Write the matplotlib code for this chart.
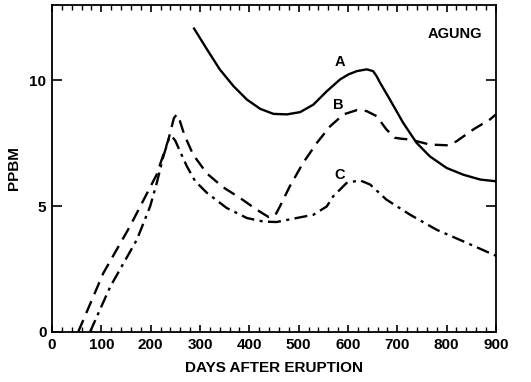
import matplotlib.pyplot as plt
from matplotlib.ticker import MultipleLocator

plt.rcParams["font.family"] = ["Liberation Sans", "DejaVu Sans"]
plt.rcParams["font.weight"] = "bold"

# curve A (solid)
a_days = [288, 314, 340, 368, 395, 422, 449, 476, 503, 530, 557, 584, 601,
          618, 638, 651, 658, 665, 685, 712, 739, 766, 800, 834, 868, 900]
a_ppbm = [12.06, 11.24, 10.44, 9.77, 9.24, 8.87, 8.67, 8.65, 8.74, 9.04, 9.57,
          10.04, 10.24, 10.37, 10.44, 10.37, 10.17, 9.91, 9.24, 8.31, 7.52,
          6.98, 6.52, 6.25, 6.06, 5.99]

# curve B (dashed)
b_days = [53, 104, 158, 212, 236, 247, 253, 259, 268, 286, 314, 347, 381, 415,
          439, 452, 462, 482, 509, 537, 564, 591, 618, 638, 658, 678, 695,
          709, 726, 766, 803, 820, 854, 888, 900]
b_ppbm = [0.0, 2.34, 4.2, 6.25, 7.65, 8.5, 8.65, 8.4, 7.85, 7.05, 6.3, 5.75,
          5.33, 4.86, 4.57, 4.62, 4.99, 5.79, 6.72, 7.52, 8.18, 8.65, 8.82,
          8.78, 8.58, 8.05, 7.72, 7.68, 7.65, 7.45, 7.42, 7.58, 8.05, 8.45,
          8.65]

# curve C (dash-dot)
c_days = [77, 118, 172, 199, 212, 226, 237, 243, 250, 259, 273, 290, 314, 354,
          395, 428, 455, 496, 530, 557, 570, 597, 624, 645, 678, 726, 780,
          834, 900]
c_ppbm = [0.0, 1.8, 3.67, 5.0, 5.9, 7.0, 7.7, 7.78, 7.6, 7.2, 6.6, 6.0,
          5.53, 4.93, 4.53, 4.39, 4.37, 4.53, 4.66, 4.99, 5.39, 5.92, 6.03,
          5.86, 5.26, 4.66, 4.06, 3.6, 3.03]

x_ticks = [0, 100, 200, 300, 400, 500, 600, 700, 800, 900]
y_ticks = [0, 5, 10]

fig = plt.figure(figsize=(5.31, 3.82), dpi=100)
ax = fig.add_axes([0.098, 0.131, 0.836, 0.856])

ax.plot(a_days, a_ppbm, "-", color="black", linewidth=1.7,
        solid_joinstyle="round")
ax.plot(b_days, b_ppbm, color="black", linewidth=1.7, dashes=(5.5, 3.2),
        dash_joinstyle="round")
ax.plot(c_days, c_ppbm, color="black", linewidth=1.7,
        dashes=(5.5, 2.3, 1.3, 2.3), dash_joinstyle="round")

ax.set_xlim(0, 900)
ax.set_ylim(0, 13)
ax.set_xticks(x_ticks)
ax.set_yticks(y_ticks)
ax.xaxis.set_minor_locator(MultipleLocator(20))

ax.tick_params(axis="x", which="major", direction="in", top=True, length=5,
               width=1.2, labelsize=11, pad=4)
ax.tick_params(axis="x", which="minor", direction="in", top=True, length=3.5,
               width=1.0)
ax.tick_params(axis="y", which="major", direction="in", right=True, length=7,
               width=1.2, labelsize=11, pad=4)

for lbl in ax.get_xticklabels() + ax.get_yticklabels():
    lbl.set_fontweight("bold")

for s in ax.spines.values():
    s.set_linewidth(1.3)

ax.set_xlabel("DAYS AFTER ERUPTION", fontsize=11, fontweight="bold", labelpad=7)
ax.set_ylabel("PPBM", fontsize=11, fontweight="bold", labelpad=6)

ax.text(584, 10.75, "A", fontsize=10.5, fontweight="bold", ha="center", va="center")
ax.text(580, 9.04, "B", fontsize=10.5, fontweight="bold", ha="center", va="center")
ax.text(584, 6.25, "C", fontsize=10.5, fontweight="bold", ha="center", va="center")
ax.text(817, 11.83, "AGUNG", fontsize=10.5, fontweight="bold", ha="center", va="center")

plt.savefig("out.png", dpi=100)
